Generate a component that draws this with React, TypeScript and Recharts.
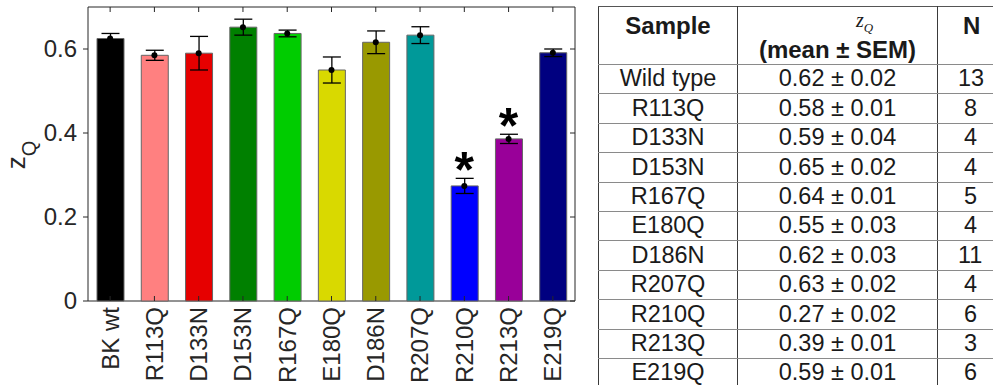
import { ComposedChart, Bar, Cell, XAxis, YAxis, ErrorBar, Scatter, ReferenceArea, Label } from "recharts";

const categories = ["BK wt", "R113Q", "D133N", "D153N", "R167Q", "E180Q", "D186N", "R207Q", "R210Q", "R213Q", "E219Q"];
const means = [0.625, 0.585, 0.59, 0.652, 0.637, 0.55, 0.616, 0.633, 0.274, 0.386, 0.591];
const sems = [0.012, 0.012, 0.04, 0.019, 0.008, 0.031, 0.027, 0.02, 0.018, 0.011, 0.009];
const stars = ["", "", "", "", "", "", "", "", "*", "*", ""];
const barColors = ["#000000", "#ff8080", "#e60000", "#008000", "#00cc00", "#d9d900", "#999900", "#009999", "#0000ff", "#990099", "#000080"];
const yTicks = [0, 0.2, 0.4, 0.6];

const tableSamples = ["Wild type", "R113Q", "D133N", "D153N", "R167Q", "E180Q", "D186N", "R207Q", "R210Q", "R213Q", "E219Q"];
const tableMeans = ["0.62", "0.58", "0.59", "0.65", "0.64", "0.55", "0.62", "0.63", "0.27", "0.39", "0.59"];
const tableSems = ["0.02", "0.01", "0.04", "0.02", "0.01", "0.03", "0.03", "0.02", "0.02", "0.01", "0.01"];
const tableN = [13, 8, 4, 4, 5, 4, 11, 4, 6, 3, 6];

const FONT = '"Liberation Sans", Arial, Helvetica, sans-serif';
const AXIS = "#262626";
const PLOT_TOP = 7;
const PLOT_BOTTOM = 301;
const PLOT_RIGHT = 575;

const data = categories.map((name, i) => ({
  name,
  mean: means[i],
  err: sems[i],
  top: means[i] + sems[i],
  star: stars[i],
}));

const LeftTick = ({ x, y, payload }: any) => (
  <g>
    <line x1={x + 6} x2={x + 11} y1={y} y2={y} stroke={AXIS} />
    <line x1={PLOT_RIGHT - 5} x2={PLOT_RIGHT} y1={y} y2={y} stroke={AXIS} />
    <text x={x} y={y} dy="0.35em" textAnchor="end" fontSize={24} fontFamily={FONT} fill={AXIS}>
      {payload.value}
    </text>
  </g>
);

const BottomTick = ({ x, y, payload }: any) => (
  <g>
    <line x1={x} x2={x} y1={PLOT_TOP} y2={PLOT_TOP + 5} stroke={AXIS} />
    <line x1={x} x2={x} y1={PLOT_BOTTOM} y2={PLOT_BOTTOM - 5} stroke={AXIS} />
    <text
      transform={`rotate(-90, ${x}, ${y})`}
      x={x}
      y={y}
      dy="0.35em"
      textAnchor="end"
      fontSize={24}
      fontFamily={FONT}
      fill={AXIS}
    >
      {payload.value}
    </text>
  </g>
);

const ZLabel = ({ viewBox }: any) => {
  const cx = viewBox.x + 25;
  const cy = viewBox.y + viewBox.height / 2 + 1;
  return (
    <text transform={`rotate(-90, ${cx}, ${cy})`} x={cx} y={cy} textAnchor="middle" fontFamily={FONT} fill={AXIS}>
      <tspan fontSize={26}>z</tspan>
      <tspan fontSize={20} dy={11}>Q</tspan>
    </text>
  );
};

const MeanDot = ({ cx, cy }: any) => <circle cx={cx} cy={cy} r={3} fill="#000" />;

const Star = ({ cx, cy, payload }: any) =>
  payload && payload.star ? (
    <text x={cx} y={cy + 9} textAnchor="middle" fontSize={50} fontWeight="bold" fontFamily={FONT} fill="#000">
      {payload.star}
    </text>
  ) : (
    <g />
  );

const cellBase: React.CSSProperties = {
  padding: 0,
  textAlign: "center",
  verticalAlign: "middle",
  borderTop: "1px solid #8a8a8a",
  borderBottom: "1px solid #8a8a8a",
  borderLeft: "1px solid #3a3a3a",
  borderRight: "1px solid #3a3a3a",
  lineHeight: "1",
  whiteSpace: "nowrap",
};

const lastCol: React.CSSProperties = { ...cellBase, borderRight: "none", textAlign: "left", paddingLeft: 20 };

const SummaryTable = () => (
  <div style={{ position: "absolute", left: 598, top: 6, width: 460 }}>
    <table
      style={{
        borderCollapse: "collapse",
        tableLayout: "fixed",
        width: 459,
        fontFamily: FONT,
        fontSize: 23.5,
        color: "#1a1a1a",
      }}
    >
      <colgroup>
        <col style={{ width: 139 }} />
        <col style={{ width: 200 }} />
        <col style={{ width: 120 }} />
      </colgroup>
      <thead>
        <tr style={{ height: 58 }}>
          <th style={{ ...cellBase, verticalAlign: "top", paddingTop: 7, fontSize: 24, borderTop: "1px solid #555" }}>Sample</th>
          <th style={{ ...cellBase, verticalAlign: "top", fontSize: 24, borderTop: "1px solid #555" }}>
            <div style={{ position: "relative", height: 57 }}>
              <div style={{ position: "absolute", left: 0, right: 0, top: 2, paddingLeft: 54, fontWeight: "normal", lineHeight: "20px" }}>
                <span style={{ fontFamily: '"Liberation Serif", "Times New Roman", serif', fontStyle: "italic", fontSize: 20 }}>
                  z<sub style={{ fontSize: 13, lineHeight: "0" }}>Q</sub>
                </span>
              </div>
              <div style={{ position: "absolute", left: 0, right: 0, top: 31 }}>(mean ± SEM)</div>
            </div>
          </th>
          <th style={{ ...lastCol, verticalAlign: "top", paddingTop: 7, paddingLeft: 25, fontSize: 24, borderTop: "1px solid #555" }}>N</th>
        </tr>
      </thead>
      <tbody>
        {tableSamples.map((s, i) => (
          <tr key={s} style={{ height: 29.4 }}>
            <td style={cellBase}>{s}</td>
            <td style={cellBase}>
              {tableMeans[i]} ± {tableSems[i]}
            </td>
            <td style={{ ...lastCol, paddingLeft: String(tableN[i]).length > 1 ? 20 : 26 }}>{tableN[i]}</td>
          </tr>
        ))}
      </tbody>
    </table>
  </div>
);

export default function App() {
  return (
    <div style={{ position: "absolute", left: 0, top: 0, width: 993, height: 385, overflow: "hidden", background: "#fff" }}>
      <ComposedChart width={590} height={385} data={data} margin={{ top: PLOT_TOP, right: 590 - PLOT_RIGHT, bottom: 0, left: 0 }}>
        <XAxis
          dataKey="name"
          height={84}
          interval={0}
          padding={{ left: 5, right: 0 }}
          tickSize={0}
          tickMargin={6}
          axisLine={false}
          tick={<BottomTick />}
        />
        <YAxis
          width={83}
          domain={[0, 0.7]}
          ticks={yTicks}
          tickSize={0}
          tickMargin={6}
          axisLine={false}
          tick={<LeftTick />}
        >
          <Label content={<ZLabel />} />
        </YAxis>
        <ReferenceArea y1={0} y2={0.7} fill="none" stroke={AXIS} strokeWidth={1} ifOverflow="visible" />
        <Bar dataKey="mean" barSize={27} stroke="#666" strokeWidth={1} isAnimationActive={false}>
          {data.map((d, i) => (
            <Cell key={d.name} fill={barColors[i]} />
          ))}
          <ErrorBar dataKey="err" width={9} stroke="#000" strokeWidth={1.3} />
        </Bar>
        <Scatter dataKey="mean" shape={<MeanDot />} isAnimationActive={false} />
        <Scatter dataKey="top" shape={<Star />} isAnimationActive={false} />
      </ComposedChart>
      <SummaryTable />
    </div>
  );
}
